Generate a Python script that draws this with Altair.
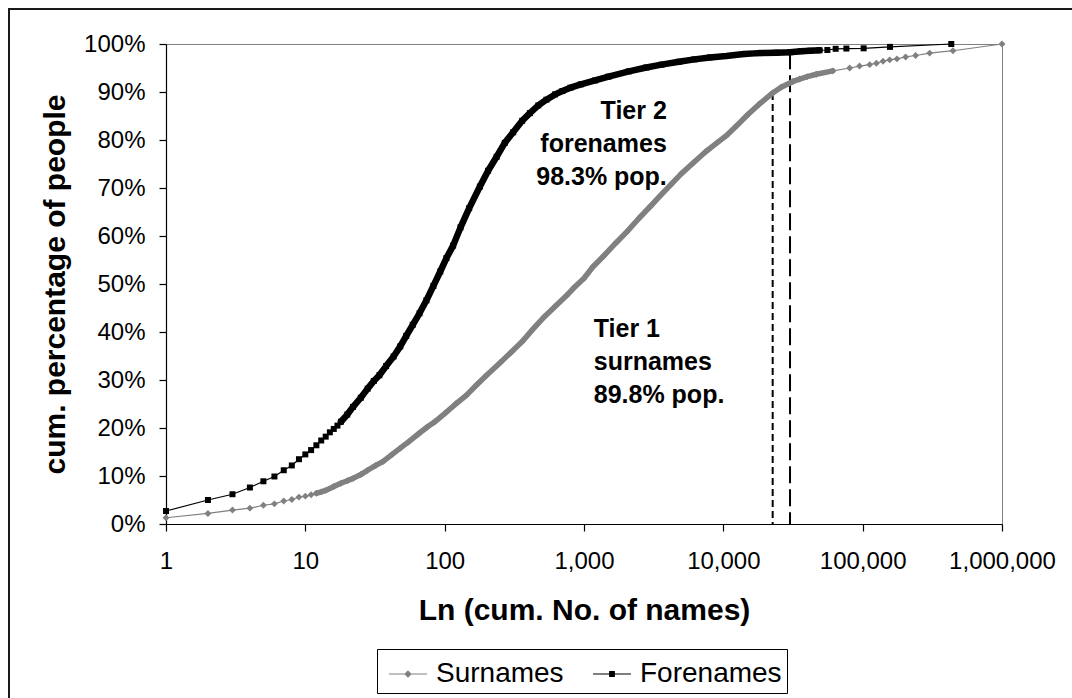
import altair as alt
import pandas as pd

FONT = "Liberation Sans"

# Cumulative number of distinct names (ranked by frequency) against the
# cumulative share of people covered, in percent.
surname_names = [1, 2, 3, 4, 5, 6, 7, 8, 9, 10, 11, 12, 13, 14, 16, 18, 20, 22, 25, 28,
                 32, 36, 42, 48, 55, 65, 75, 85, 100, 120, 143, 170, 200, 250, 300, 360,
                 430, 520, 620, 750, 840, 1000, 1160, 1400, 1700, 2020, 2500, 3000, 3500,
                 4200, 5000, 6070, 7500, 9000, 10500, 12500, 15000, 18000, 22600, 26000,
                 31600, 35300, 40000, 46500, 61000, 80700, 95000, 112300, 125400, 140000,
                 156300, 176200, 203400, 239900, 302700, 444600, 1000000]
surname_share = [1.3, 2.2, 2.9, 3.3, 3.9, 4.2, 4.8, 5.1, 5.6, 5.8, 6.1, 6.4, 6.7, 7.0, 7.8,
                 8.5, 9.0, 9.5, 10.3, 11.2, 12.2, 13.0, 14.5, 15.8, 17.1, 18.8, 20.2, 21.3,
                 23.0, 25.0, 26.8, 29.0, 31.0, 33.6, 35.8, 38.0, 40.6, 43.2, 45.3, 47.6,
                 49.1, 51.2, 53.6, 56.0, 58.6, 60.8, 63.8, 66.2, 68.3, 70.7, 73.0, 75.2,
                 77.6, 79.4, 80.9, 83.0, 85.3, 87.4, 89.8, 91.0, 92.2, 92.7, 93.2, 93.7,
                 94.4, 95.0, 95.4, 95.7, 96.0, 96.4, 96.7, 96.9, 97.3, 97.6, 98.1, 98.6,
                 100.0]

forename_names = [1, 2, 3, 4, 5, 6, 7, 8, 9, 10, 11, 12, 13, 14, 15, 16, 17, 18, 20, 22,
                  25, 28, 31, 34, 38, 43, 48, 53, 59, 66, 74, 83, 93, 103, 115, 130, 150,
                  179, 205, 236, 270, 310, 360, 409, 470, 538, 620, 700, 800, 950, 1200,
                  1500, 2100, 2800, 3600, 4800, 6200, 8000, 10500, 14000, 18000, 24000,
                  30100, 36000, 42000, 49000, 55800, 64000, 76400, 101600, 157000, 432500]
forename_share = [2.7, 5.0, 6.2, 7.6, 8.9, 9.9, 11.2, 12.2, 13.5, 14.5, 15.4, 16.4, 17.4,
                  18.2, 19.1, 19.8, 20.5, 21.3, 22.8, 24.4, 26.3, 28.2, 29.8, 31.0, 32.9,
                  34.9, 37.0, 39.2, 41.5, 43.9, 46.6, 49.6, 52.6, 55.4, 58.0, 61.8, 65.8,
                  70.3, 73.6, 76.5, 79.4, 81.6, 84.0, 85.6, 87.2, 88.4, 89.5, 90.2, 90.9,
                  91.6, 92.4, 93.2, 94.3, 95.1, 95.7, 96.3, 96.8, 97.2, 97.5, 97.9, 98.1,
                  98.2, 98.3, 98.5, 98.6, 98.7, 98.75, 99.0, 99.05, 99.1, 99.4, 100.0]

# Tier cut-offs: number of names kept and the share of people they cover
tier_kind = ["surnames", "forenames"]
tier_names = [22600, 30100]
tier_share = [89.8, 98.3]

series_names = ["Surnames", "Forenames"]
series_colors = ["#808080", "#000000"]

rows = []
for name, ns, ps in [("Surnames", surname_names, surname_share),
                     ("Forenames", forename_names, forename_share)]:
    for n, p in zip(ns, ps):
        rows.append({"series": name, "names": n, "share": p})
df = pd.DataFrame(rows)

tiers = pd.DataFrame({
    "tier": [1, 2],
    "kind": tier_kind,
    "names": tier_names,
    "share": tier_share,
})
tiers["label"] = [f"Tier {t}\n{k}\n{s}% pop." for t, k, s in
                  zip(tiers["tier"], tiers["kind"], tiers["share"])]
# anchor of each annotation block, first line (in data units)
tiers["label_names"] = [1175, 3930]
tiers["label_share"] = [40.6, 86.0]

x_enc = alt.X(
    "names:Q",
    scale=alt.Scale(type="log", domain=[1, 1000000]),
    axis=alt.Axis(
        values=[1, 10, 100, 1000, 10000, 100000, 1000000],
        format=",",
        title="Ln (cum. No. of names)",
        titleFontSize=30, titleFontWeight="bold", titleFont=FONT,
        titleX=418, titleY=86, titleAlign="center", titleBaseline="middle",
        labelFontSize=24, labelFont=FONT, labelPadding=18,
        labelFlush=False, labelOverlap=False, tickSize=7, grid=False,
    ),
)
y_enc = alt.Y(
    "share:Q",
    scale=alt.Scale(domain=[0, 100]),
    axis=alt.Axis(
        values=list(range(0, 101, 10)),
        labelExpr="datum.value + '%'",
        title="cum. percentage of people",
        titleFontSize=30, titleFontWeight="bold", titleFont=FONT,
        titleX=-111, titleY=240, titleAngle=270, titleAlign="center",
        titleBaseline="middle",
        labelFontSize=24, labelFont=FONT, labelPadding=14,
        labelFlush=False, labelOverlap=False, tickSize=7, grid=False,
    ),
)

base = alt.Chart(df)


def series_layers(name, color, shape, size, band_width, lo, hi):
    is_series = alt.datum.series == name
    thin = base.mark_line(color=color, strokeWidth=1.2).encode(
        x=x_enc, y=y_enc).transform_filter(is_series)
    band = base.mark_line(color=color, strokeWidth=band_width,
                          strokeJoin="round", strokeCap="round").encode(
        x=x_enc, y=y_enc).transform_filter(
        is_series & (alt.datum.names >= lo) & (alt.datum.names <= hi))
    pts = base.mark_point(shape=shape, filled=True, size=size, color=color,
                          opacity=1).encode(x=x_enc, y=y_enc).transform_filter(is_series)
    return [thin, band, pts]


surname_layers = series_layers("Surnames", series_colors[0], "diamond", 48, 5.5, 12, 80000)
forename_layers = series_layers("Forenames", series_colors[1], "square", 36, 6.5, 18, 50000)

# Legend entries: a line segment with the series marker in its middle
legend_paths = [
    "M-1,0L1,0M0,-0.15L0.15,0L0,0.15L-0.15,0Z",
    "M-1,0L1,0M-0.12,-0.12L0.12,-0.12L0.12,0.12L-0.12,0.12Z",
]
leg = alt.Legend(
    title=None, orient="none", legendX=211, legendY=605, direction="horizontal",
    symbolSize=1444, symbolStrokeWidth=1.2, labelFontSize=28, labelFont=FONT,
    labelColor="black", labelOffset=8, columnPadding=22, padding=5,
    symbolOffset=6, strokeColor="black", fillColor="white",
)
legend_layer = base.mark_point(filled=True, opacity=1, strokeWidth=1.2).encode(
    x=x_enc, y=y_enc,
    color=alt.Color("series:N", scale=alt.Scale(domain=series_names, range=series_colors), legend=leg),
    stroke=alt.Stroke("series:N", scale=alt.Scale(domain=series_names, range=series_colors), legend=leg),
    shape=alt.Shape("series:N", scale=alt.Scale(domain=series_names, range=legend_paths), legend=leg),
).transform_filter("false")

tier_base = alt.Chart(tiers)
rule1 = tier_base.mark_rule(color="black", strokeWidth=2, strokeDash=[7, 4]).encode(
    x=x_enc, y=y_enc, y2=alt.Y2Datum(0)).transform_filter(alt.datum.tier == 1)
rule2 = tier_base.mark_rule(color="black", strokeWidth=2, strokeDash=[17, 6]).encode(
    x=x_enc, y=y_enc, y2=alt.Y2Datum(0)).transform_filter(alt.datum.tier == 2)

label_style = dict(font=FONT, fontSize=25, fontWeight="bold", color="black",
                   lineBreak="\n", lineHeight=33, baseline="middle")
label1 = tier_base.mark_text(align="left", **label_style).encode(
    x=alt.X("label_names:Q", scale=alt.Scale(type="log", domain=[1, 1000000])),
    y=alt.Y("label_share:Q", scale=alt.Scale(domain=[0, 100])),
    text="label:N").transform_filter(alt.datum.tier == 1)
label2 = tier_base.mark_text(align="right", **label_style).encode(
    x=alt.X("label_names:Q", scale=alt.Scale(type="log", domain=[1, 1000000])),
    y=alt.Y("label_share:Q", scale=alt.Scale(domain=[0, 100])),
    text="label:N").transform_filter(alt.datum.tier == 2)

# Outer frame around the whole figure
frame = alt.Chart(pd.DataFrame({"k": [0]})).mark_rect(
    fill="transparent", stroke="#1a1a1a", strokeWidth=2).encode(
    x=alt.value(-157), x2=alt.value(926), y=alt.value(-35), y2=alt.value(674))

chart = alt.layer(
    frame, rule1, rule2,
    *surname_layers, *forename_layers,
    label1, label2, legend_layer,
).properties(
    width=836, height=480,
    autosize=alt.AutoSizeParams(type="none"),
    padding={"left": 166, "top": 44, "right": 70, "bottom": 174},
    background="white",
).configure_view(
    stroke="#808080", strokeWidth=1,
).configure_axis(
    domainColor="black", tickColor="black", labelColor="black", titleColor="black",
    domainWidth=1.2, tickWidth=1.2,
)

chart.save("out.html", embed_options={"renderer": "svg", "actions": False})
